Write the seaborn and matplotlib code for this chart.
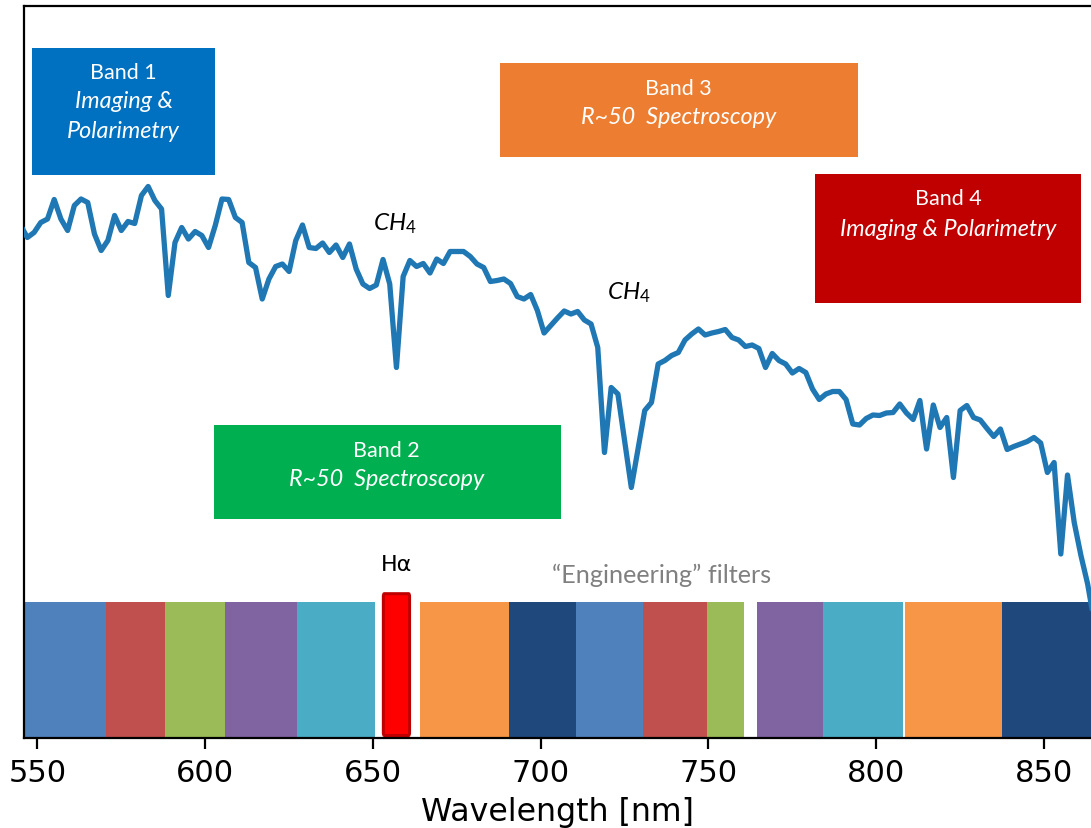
import numpy as np
import pandas as pd
import matplotlib
matplotlib.use("Agg")
import matplotlib.pyplot as plt
from matplotlib.patches import Rectangle, FancyBboxPatch
import seaborn as sns

# ---------------- data ----------------
wavelength = [
    545, 547, 549, 551, 553, 555, 557, 559, 561, 563,
    565, 567, 569, 571, 573, 575, 577, 579, 581, 583,
    585, 587, 589, 591, 593, 595, 597, 599, 601, 603,
    605, 607, 609, 611, 613, 615, 617, 619, 621, 623,
    625, 627, 629, 631, 633, 635, 637, 639, 641, 643,
    645, 647, 649, 651, 653, 655, 657, 659, 661, 663,
    665, 667, 669, 671, 673, 675, 677, 679, 681, 683,
    685, 687, 689, 691, 693, 695, 697, 699, 701, 703,
    705, 707, 709, 711, 713, 715, 717, 719, 721, 723,
    725, 727, 729, 731, 733, 735, 737, 739, 741, 743,
    745, 747, 749, 751, 753, 755, 757, 759, 761, 763,
    765, 767, 769, 771, 773, 775, 777, 779, 781, 783,
    785, 787, 789, 791, 793, 795, 797, 799, 801, 803,
    805, 807, 809, 811, 813, 815, 817, 819, 821, 823,
    825, 827, 829, 831, 833, 835, 837, 839, 841, 843,
    845, 847, 849, 851, 853, 855, 857, 859, 861, 863,
    865,
]
flux = [
    5.12, 5.00, 5.05, 5.15, 5.185, 5.38, 5.185, 5.07, 5.32, 5.385,
    5.35, 5.035, 4.87, 4.97, 5.22, 5.07, 5.16, 5.14, 5.42, 5.51,
    5.37, 5.285, 4.42, 4.95, 5.10, 4.985, 5.06, 5.02, 4.90, 5.12,
    5.385, 5.38, 5.20, 5.15, 4.75, 4.70, 4.385, 4.585, 4.71, 4.735,
    4.66, 4.97, 5.125, 4.90, 4.89, 4.945, 4.85, 4.925, 4.80, 4.935,
    4.685, 4.535, 4.49, 4.525, 4.78, 4.535, 3.70, 4.61, 4.77, 4.71,
    4.74, 4.645, 4.785, 4.74, 4.86, 4.86, 4.86, 4.81, 4.735, 4.70,
    4.56, 4.57, 4.585, 4.54, 4.41, 4.385, 4.43, 4.27, 4.045, 4.12,
    4.195, 4.265, 4.235, 4.26, 4.175, 4.135, 3.90, 2.85, 3.50, 3.435,
    2.97, 2.50, 2.885, 3.27, 3.35, 3.735, 3.77, 3.82, 3.85, 3.975,
    4.035, 4.085, 4.025, 4.045, 4.06, 4.08, 4.00, 3.975, 3.91, 3.925,
    3.89, 3.70, 3.84, 3.77, 3.735, 3.645, 3.69, 3.65, 3.485, 3.38,
    3.435, 3.46, 3.46, 3.38, 3.135, 3.125, 3.19, 3.225, 3.22, 3.245,
    3.25, 3.335, 3.245, 3.18, 3.37, 2.885, 3.325, 3.10, 3.20, 2.60,
    3.27, 3.32, 3.20, 3.175, 3.09, 3.01, 3.085, 2.88, 2.91, 2.935,
    2.96, 3.00, 2.945, 2.65, 2.75, 1.835, 2.625, 2.15, 1.82, 1.535,
    1.15,
]

# engineering filters (nm)
filter_start = [545.0, 570.3, 588.0, 606.0, 627.5, 664.0, 690.5, 710.5, 730.5, 749.5, 764.5, 784.0, 808.5, 837.5]
filter_end   = [570.3, 588.0, 606.0, 627.5, 650.7, 690.5, 710.5, 730.5, 749.5, 760.5, 784.0, 808.0, 837.5, 866.0]
filter_colors = ["#4F81BD", "#C0504D", "#9BBB59", "#8064A2", "#4BACC6",
                 "#F79646", "#1F497D", "#4F81BD", "#C0504D", "#9BBB59",
                 "#8064A2", "#4BACC6", "#F79646", "#1F497D"]
filter_height = 1.353

halpha_start, halpha_end, halpha_height = 652.7, 661.3, 1.458

band_titles = ["Band 1", "Band 2", "Band 3", "Band 4"]
band_modes = [["Imaging &", "Polarimetry"], ["R~50  Spectroscopy"],
              ["R~50  Spectroscopy"], ["Imaging & Polarimetry"]]
band_colors = ["#0070C0", "#00B050", "#ED7D31", "#C00000"]

xticks = [550, 600, 650, 700, 750, 800, 850]

# ---------------- style ----------------
sns.set_theme(style="ticks")
plt.rcParams["font.family"] = ["DejaVu Sans"]
plt.rcParams["mathtext.fontset"] = "custom"
plt.rcParams["mathtext.it"] = "Lato:italic"
plt.rcParams["mathtext.rm"] = "Lato"
box_font = "Lato"

W, H = 1091, 829
fig = plt.figure(figsize=(W / 100, H / 100), dpi=100)
ax = fig.add_axes([24 / W, 90.5 / H, 1067 / W, 731.5 / H])

# filters
widths = [e - s for s, e in zip(filter_start, filter_end)]
ax.bar(filter_start, [filter_height] * len(filter_start), width=widths, align="edge",
       color=filter_colors, edgecolor="none", linewidth=0, zorder=1)
ax.add_patch(FancyBboxPatch((halpha_start + 0.4, 0.02), halpha_end - halpha_start - 0.8,
                            halpha_height - 0.04, boxstyle="round,pad=0,rounding_size=0.3",
                            facecolor="#FF0000", edgecolor="#C00000", linewidth=2.2,
                            mutation_aspect=0.1, zorder=2))

# spectrum
df = pd.DataFrame({"Wavelength": wavelength, "Flux": flux})
sns.lineplot(data=df, x="Wavelength", y="Flux", ax=ax, color="#1F77B4", linewidth=3.8,
             solid_joinstyle="round", solid_capstyle="round", zorder=3)

# band boxes (layout in data coords)
box_geo = [  # x0, x1, y0, y1
    (548.5, 602.8, 5.628, 6.895),
    (602.5, 706.0, 2.185, 3.125),
    (687.8, 794.6, 5.805, 6.745),
    (781.7, 861.0, 4.345, 5.635),
]
line_pos = [  # x center, [y for each line]
    (575.7, [6.655, 6.365, 6.075]),
    (654.1, [2.875, 2.585]),
    (741.1, [6.495, 6.215]),
    (821.4, [5.395, 5.095]),
]
for (x0, x1, y0, y1), col, title, modes, (xc, ys) in zip(box_geo, band_colors, band_titles, band_modes, line_pos):
    ax.add_patch(Rectangle((x0, y0), x1 - x0, y1 - y0, facecolor=col, edgecolor="none", zorder=4))
    ax.text(xc, ys[0], title, color="white", fontsize=15.5, family=box_font,
            ha="center", va="center", zorder=5)
    for m, yy in zip(modes, ys[1:]):
        ax.text(xc, yy, m, color="white", fontsize=16.8, family=box_font, style="italic",
                ha="center", va="center", zorder=5)

# annotations
ch4 = r"$\mathit{CH}_\mathit{4}$"
ax.text(649.9, 5.085, ch4, fontsize=17.5, color="black", ha="left", va="baseline", zorder=5)
ax.text(719.9, 4.39, ch4, fontsize=17.5, color="black", ha="left", va="baseline", zorder=5)
ax.text(657.0, 1.676, "H\u03b1", fontsize=16, color="black", ha="center", va="baseline", zorder=5)
ax.text(736.1, 1.556, "\u201cEngineering\u201d filters", fontsize=18.2, color="#808080",
        family=box_font, ha="center", va="baseline", zorder=5)

# axes
ax.set_xlim(546.0, 864.0)
ax.set_ylim(0, 7.315)
ax.set_xticks(xticks)
ax.set_xticklabels([str(t) for t in xticks])
ax.set_yticks([])
ax.set_ylabel("")
ax.set_xlabel("Wavelength [nm]", fontsize=22.8, color="black", labelpad=6)
ax.tick_params(axis="x", direction="out", length=8, width=1.6, labelsize=22, pad=7,
               colors="black")
for side in ["left", "top", "bottom"]:
    ax.spines[side].set_visible(True)
    ax.spines[side].set_color("black")
    ax.spines[side].set_linewidth(1.6)
ax.spines["right"].set_visible(False)

fig.savefig("out.png", dpi=100)
